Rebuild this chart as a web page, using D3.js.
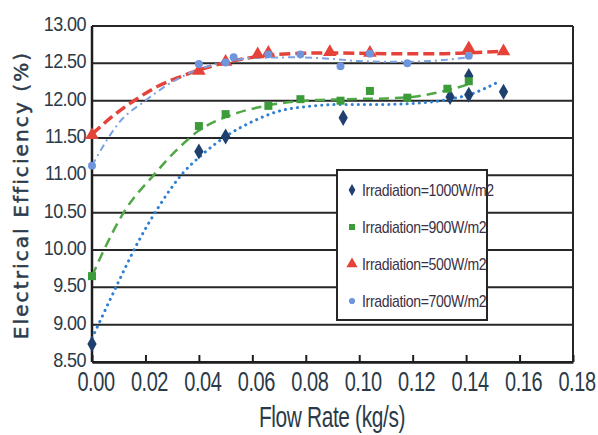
<!DOCTYPE html>
<html>
<head>
<meta charset="utf-8">
<script src="https://cdn.jsdelivr.net/npm/d3@7"></script>
<style>
  html, body { margin: 0; padding: 0; background: #fff; }
  svg { display: block; }
  .narrow { font-family: "Liberation Sans Narrow", "Liberation Sans", Arial, sans-serif; }
</style>
</head>
<body>
<svg id="chart" width="598" height="435"></svg>
<script>
// Measured points (flow rate in kg/s, electrical efficiency in %)
const flow1000 = [0, 0.040, 0.050, 0.094, 0.134, 0.141, 0.141, 0.154];
const eff1000  = [8.74, 11.32, 11.52, 11.77, 12.05, 12.08, 12.33, 12.12];

const flow900 = [0, 0.040, 0.050, 0.066, 0.078, 0.093, 0.104, 0.118, 0.133, 0.141];
const eff900  = [9.65, 11.66, 11.82, 11.93, 12.02, 12.00, 12.13, 12.04, 12.16, 12.26];

const flow500 = [0, 0.040, 0.050, 0.062, 0.066, 0.089, 0.104, 0.141, 0.154];
const eff500  = [11.54, 12.40, 12.52, 12.62, 12.64, 12.65, 12.64, 12.70, 12.66];

const flow700 = [0, 0.040, 0.050, 0.053, 0.066, 0.078, 0.093, 0.104, 0.118, 0.141];
const eff700  = [11.13, 12.49, 12.51, 12.58, 12.62, 12.62, 12.46, 12.63, 12.50, 12.60];

// Trend curves
const trendX1000 = [0, 0.005, 0.010, 0.017, 0.025, 0.034, 0.041, 0.050, 0.060, 0.070, 0.080, 0.095, 0.110, 0.123, 0.134, 0.142, 0.152];
const trendY1000 = [8.82, 9.20, 9.58, 10.09, 10.58, 11.03, 11.27, 11.52, 11.72, 11.86, 11.92, 11.95, 11.95, 11.97, 12.02, 12.09, 12.25];

const trendX900 = [0, 0.005, 0.012, 0.023, 0.032, 0.040, 0.050, 0.065, 0.080, 0.095, 0.110, 0.122, 0.133, 0.141];
const trendY900 = [9.65, 10.04, 10.51, 11.00, 11.35, 11.60, 11.78, 11.93, 12.00, 12.02, 12.03, 12.06, 12.14, 12.22];

const trendX500 = [0, 0.008, 0.017, 0.025, 0.033, 0.040, 0.050, 0.060, 0.070, 0.090, 0.110, 0.130, 0.140, 0.154];
const trendY500 = [11.55, 11.80, 12.03, 12.20, 12.32, 12.41, 12.51, 12.58, 12.62, 12.64, 12.63, 12.63, 12.64, 12.66];

const trendX700 = [0, 0.004, 0.010, 0.020, 0.030, 0.040, 0.050, 0.060, 0.075, 0.090, 0.100, 0.115, 0.130, 0.141];
const trendY700 = [11.13, 11.38, 11.70, 12.00, 12.25, 12.42, 12.52, 12.57, 12.58, 12.56, 12.53, 12.52, 12.54, 12.58];

const xTicks = [0, 0.02, 0.04, 0.06, 0.08, 0.10, 0.12, 0.14, 0.16, 0.18];
const yTicks = [8.5, 9.0, 9.5, 10.0, 10.5, 11.0, 11.5, 12.0, 12.5, 13.0];

const seriesNames = ["Irradiation=1000W/m2", "Irradiation=900W/m2", "Irradiation=500W/m2", "Irradiation=700W/m2"];

const svg = d3.select("#chart");
const margin = { left: 92, top: 26, right: 25, bottom: 73 };
const W = 598, H = 435;
const x = d3.scaleLinear().domain([0, 0.18]).range([margin.left, W - margin.right]);
const y = d3.scaleLinear().domain([8.5, 13]).range([H - margin.bottom, margin.top]);

const zip = (a, b) => a.map((v, i) => [v, b[i]]);

const series = [
  { name: seriesNames[0], pts: zip(flow1000, eff1000), trend: zip(trendX1000, trendY1000),
    marker: "diamond", mColor: "#1f3f6e", lColor: "#2f7fd2", width: 3, dash: "0.1,6", cap: "round" },
  { name: seriesNames[1], pts: zip(flow900, eff900), trend: zip(trendX900, trendY900),
    marker: "square", mColor: "#3c9c3a", lColor: "#4fa846", width: 2.5, dash: "10,6", cap: "butt" },
  { name: seriesNames[2], pts: zip(flow500, eff500), trend: zip(trendX500, trendY500),
    marker: "triangle", mColor: "#e5433a", lColor: "#e5433a", width: 3.5, dash: "11,5", cap: "butt" },
  { name: seriesNames[3], pts: zip(flow700, eff700), trend: zip(trendX700, trendY700),
    marker: "circle", mColor: "#6f95dd", lColor: "#7ba3e3", width: 2, dash: "7,4,2,4", cap: "butt" }
];

// Horizontal gridlines
svg.append("g").selectAll("line").data(yTicks).join("line")
  .attr("x1", x(0)).attr("x2", x(0.18))
  .attr("y1", d => y(d)).attr("y2", d => y(d))
  .attr("stroke", "#262626").attr("stroke-width", 2);

// Frame: left axis and right border
svg.append("line").attr("x1", x(0)).attr("x2", x(0)).attr("y1", y(13)).attr("y2", y(8.5))
  .attr("stroke", "#1e1e1e").attr("stroke-width", 2.5);
svg.append("line").attr("x1", x(0.18)).attr("x2", x(0.18)).attr("y1", y(13)).attr("y2", y(8.5))
  .attr("stroke", "#262626").attr("stroke-width", 2);

// Bottom axis with inward ticks
const xAxis = d3.axisBottom(x).tickValues(xTicks).tickSizeInner(-7).tickSizeOuter(0).tickFormat(() => "");
const gx = svg.append("g").attr("transform", `translate(0,${y(8.5)})`).call(xAxis);
gx.select(".domain").attr("stroke", "#1e1e1e").attr("stroke-width", 2.5);
gx.selectAll(".tick line").attr("stroke", "#1e1e1e").attr("stroke-width", 2);

// Tick labels (condensed)
const labelColor = "#2a3a48";
svg.append("g").selectAll("text").data(yTicks).join("text")
  .attr("class", "narrow")
  .attr("transform", d => `translate(86,${y(d) + 5}) scale(0.9,1)`)
  .attr("text-anchor", "end")
  .attr("font-size", 20).attr("letter-spacing", -0.6)
  .attr("fill", labelColor)
  .text(d => d3.format(".2f")(d));

svg.append("g").selectAll("text").data(xTicks).join("text")
  .attr("class", "narrow")
  .attr("transform", d => `translate(${x(d) + 4},391) scale(0.74,1)`)
  .attr("text-anchor", "middle")
  .attr("font-size", 27).attr("letter-spacing", -0.6)
  .attr("fill", labelColor)
  .text(d => d3.format(".2f")(d));

// Axis titles
svg.append("text").attr("class", "narrow")
  .attr("transform", "translate(332,427) scale(0.72,1)")
  .attr("text-anchor", "middle")
  .attr("font-size", 29).attr("letter-spacing", -0.5)
  .attr("fill", labelColor)
  .text("Flow Rate (kg/s)");

svg.append("text")
  .attr("transform", "translate(28,195) rotate(-90)")
  .attr("text-anchor", "middle")
  .attr("font-family", "DejaVu Sans, Verdana, sans-serif")
  .attr("font-size", 20).attr("letter-spacing", 2.1)
  .attr("fill", "#2c3b4b").attr("stroke", "#2c3b4b").attr("stroke-width", 0.5)
  .text("Electrical Efficiency (%)");

// Trend curves
const line = d3.line().x(d => x(d[0])).y(d => y(d[1])).curve(d3.curveMonotoneX);
svg.append("g").selectAll("path").data(series).join("path")
  .attr("d", d => line(d.trend))
  .attr("fill", "none")
  .attr("stroke", d => d.lColor)
  .attr("stroke-width", d => d.width)
  .attr("stroke-dasharray", d => d.dash)
  .attr("stroke-linecap", d => d.cap);

// Markers
const symbolOf = {
  diamond: d3.symbol().type(d3.symbolDiamond).size(75),
  square: d3.symbol().type(d3.symbolSquare).size(64),
  triangle: d3.symbol().type(d3.symbolTriangle).size(80),
  circle: d3.symbol().type(d3.symbolCircle).size(50)
};
series.forEach(s => {
  svg.append("g").selectAll("path").data(s.pts).join("path")
    .attr("transform", d => `translate(${x(d[0])},${y(d[1])})`)
    .attr("d", symbolOf[s.marker]())
    .attr("fill", s.mColor);
});

// Legend
const lg = svg.append("g").attr("transform", "translate(337,170)");
lg.append("rect").attr("width", 150).attr("height", 150)
  .attr("fill", "#fff").attr("stroke", "#262626").attr("stroke-width", 2);
const rowY = d3.scalePoint().domain(seriesNames).range([20, 131]);
const legendSym = {
  diamond: d3.symbol().type(d3.symbolDiamond).size(40),
  square: d3.symbol().type(d3.symbolSquare).size(36),
  triangle: d3.symbol().type(d3.symbolTriangle).size(55),
  circle: d3.symbol().type(d3.symbolCircle).size(30)
};
series.forEach(s => {
  const g = lg.append("g").attr("transform", `translate(15,${rowY(s.name)})`);
  g.append("path").attr("d", legendSym[s.marker]()).attr("fill", s.mColor);
  g.append("text").attr("class", "narrow")
    .attr("transform", "translate(10,6) scale(0.88,1)")
    .attr("font-size", 16).attr("letter-spacing", -0.4)
    .attr("fill", "#3b3045")
    .text(s.name);
});
</script>
</body>
</html>
